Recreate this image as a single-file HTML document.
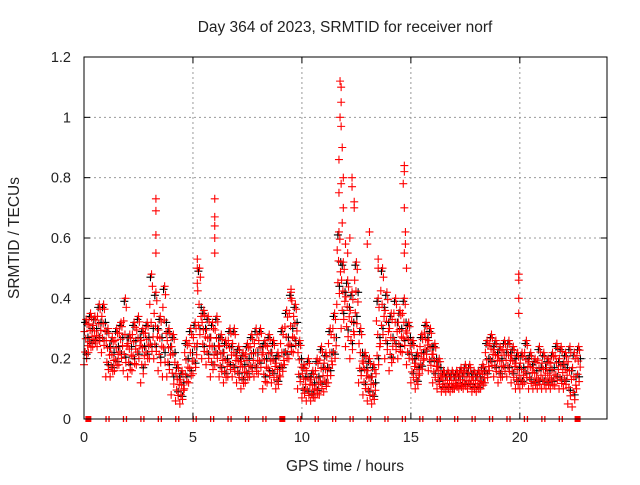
<!DOCTYPE html>
<html><head><meta charset="utf-8"><style>
body{margin:0;background:#fff}
svg text{font-family:"Liberation Sans","DejaVu Sans",sans-serif;fill:#222}
</style></head><body>
<svg id="c" width="640" height="480" xmlns="http://www.w3.org/2000/svg">
<rect width="640" height="480" fill="#fff"/>
<g id="grid"></g><g id="black"></g><g id="red"></g><g id="axes"></g>
<text x="345" y="32" font-size="15.5" text-anchor="middle">Day 364 of 2023, SRMTID for receiver norf</text>
<text x="345" y="471" font-size="15.5" text-anchor="middle">GPS time / hours</text>
<text transform="translate(19,238) rotate(-90)" font-size="15.5" text-anchor="middle">SRMTID / TECUs</text>
</svg>
<script>
const xTicks=[0,5,10,15,20];
const yTicks=[0,0.2,0.4,0.6,0.8,1,1.2];
const yTickLabels=["0","0.2","0.4","0.6","0.8","1","1.2"];
const step=0.2;
const midVals=[0.25,0.28,0.28,0.30,0.30,0.22,0.20,0.22,0.25,0.25,0.22,0.24,0.25,0.22,0.25,0.28,0.28,0.25,0.30,0.22,0.20,0.12,0.10,0.18,0.20,0.22,0.35,0.28,0.25,0.22,0.25,0.20,0.18,0.22,0.20,0.18,0.16,0.18,0.20,0.20,0.22,0.18,0.20,0.18,0.15,0.20,0.25,0.28,0.30,0.18,0.12,0.12,0.10,0.12,0.15,0.15,0.20,0.25,0.50,0.40,0.35,0.30,0.40,0.20,0.15,0.12,0.10,0.25,0.35,0.30,0.25,0.30,0.28,0.30,0.25,0.18,0.15,0.20,0.25,0.22,0.18,0.15,0.12,0.12,0.12,0.12,0.12,0.13,0.13,0.12,0.12,0.14,0.18,0.22,0.20,0.18,0.20,0.20,0.18,0.15,0.15,0.18,0.16,0.14,0.15,0.15,0.14,0.15,0.17,0.16,0.15,0.14,0.12,0.18];
const loVals=[0.18,0.22,0.24,0.24,0.22,0.14,0.14,0.16,0.18,0.16,0.14,0.16,0.18,0.12,0.18,0.20,0.20,0.16,0.14,0.14,0.08,0.06,0.05,0.10,0.12,0.15,0.25,0.20,0.18,0.14,0.18,0.14,0.12,0.14,0.14,0.12,0.10,0.12,0.14,0.14,0.15,0.10,0.12,0.12,0.10,0.14,0.18,0.20,0.22,0.10,0.07,0.06,0.06,0.07,0.08,0.09,0.12,0.18,0.38,0.30,0.24,0.20,0.28,0.12,0.08,0.06,0.05,0.15,0.25,0.20,0.16,0.20,0.20,0.22,0.18,0.12,0.10,0.15,0.20,0.16,0.12,0.10,0.09,0.09,0.09,0.10,0.10,0.10,0.10,0.09,0.09,0.10,0.12,0.16,0.14,0.12,0.14,0.14,0.12,0.10,0.10,0.12,0.10,0.10,0.10,0.10,0.10,0.10,0.11,0.10,0.10,0.05,0.04,0.10];
const hiVals=[0.33,0.35,0.34,0.38,0.38,0.30,0.27,0.30,0.32,0.40,0.28,0.32,0.34,0.30,0.32,0.48,0.42,0.34,0.44,0.30,0.28,0.18,0.16,0.26,0.30,0.32,0.50,0.36,0.34,0.32,0.34,0.28,0.26,0.30,0.30,0.24,0.22,0.25,0.28,0.30,0.30,0.26,0.28,0.26,0.22,0.30,0.36,0.42,0.38,0.26,0.18,0.20,0.16,0.20,0.24,0.22,0.30,0.35,0.62,0.52,0.46,0.42,0.52,0.30,0.22,0.20,0.18,0.40,0.50,0.42,0.35,0.40,0.36,0.40,0.32,0.26,0.22,0.28,0.32,0.30,0.25,0.20,0.16,0.16,0.16,0.16,0.17,0.18,0.18,0.16,0.16,0.18,0.26,0.28,0.26,0.24,0.26,0.26,0.24,0.22,0.22,0.26,0.22,0.20,0.24,0.22,0.20,0.22,0.25,0.24,0.22,0.24,0.22,0.24];
const spikeTimes=[3.3,3.3,3.3,3.3,6.0,6.0,6.0,6.0,6.0,5.2,5.2,11.75,11.8,11.8,11.75,11.8,11.85,11.7,11.8,11.9,11.7,11.9,11.85,12.3,12.3,12.4,12.4,12.2,12.0,12.1,14.7,14.7,14.65,14.7,14.75,14.75,14.7,14.8,13.0,13.1,13.5,13.5,19.95,19.95,19.95,19.95,9.5,9.5,5.2];
const spikeVals=[0.73,0.69,0.61,0.55,0.73,0.67,0.64,0.60,0.55,0.53,0.50,1.12,1.10,1.05,1.0,0.97,0.9,0.86,0.78,0.8,0.75,0.7,0.65,0.8,0.77,0.72,0.7,0.6,0.58,0.55,0.84,0.82,0.78,0.7,0.62,0.58,0.55,0.5,0.58,0.62,0.53,0.5,0.48,0.46,0.4,0.35,0.43,0.4,0.45];
const zeroTimes=[0.2,1.08,1.88,2.68,3.48,4.28,5.08,5.88,6.68,7.48,8.28,9.1,9.88,10.68,11.48,12.28,13.08,13.88,14.68,15.48,16.28,17.08,17.88,18.68,19.48,20.28,21.08,21.88,22.65];
const bigZero=[0.2,9.1,22.65];
const X0=84,X1=607,Y0=419,Y1=57;
const xs=t=>X0+(X1-X0)*t/24;
const ys=v=>Y0-(Y0-Y1)*v/1.2;
const NS="http://www.w3.org/2000/svg";
function mk(tag,attrs,parent){const e=document.createElementNS(NS,tag);for(const k in attrs)e.setAttribute(k,attrs[k]);parent.appendChild(e);return e;}
const grid=document.getElementById('grid'),axes=document.getElementById('axes');
const gb=document.getElementById('black'),gr=document.getElementById('red');
xTicks.forEach(t=>{
  const x=xs(t);
  if(t>0){const l=mk('line',{x1:x,y1:Y1,x2:x,y2:Y0,stroke:'#999','stroke-dasharray':'2,3'},grid);
  
  }
  mk('line',{x1:x,y1:Y0,x2:x,y2:Y0-6,stroke:'#000'},axes);
  mk('line',{x1:x,y1:Y1,x2:x,y2:Y1+6,stroke:'#000'},axes);
  const tx=mk('text',{x:x,y:Y0+23,'font-size':14.5,'text-anchor':'middle'},axes);tx.textContent=t;
  
  
});
yTicks.forEach((v,i)=>{
  const y=ys(v);
  if(v>0&&v<1.2){const l=mk('line',{x1:X0,y1:y,x2:X1,y2:y,stroke:'#999','stroke-dasharray':'2,3'},grid);
  
  }
  mk('line',{x1:X0,y1:y,x2:X0+6,y2:y,stroke:'#000'},axes);
  mk('line',{x1:X1,y1:y,x2:X1-6,y2:y,stroke:'#000'},axes);
  const tx=mk('text',{x:X0-13,y:y+5,'font-size':14.5,'text-anchor':'end'},axes);tx.textContent=yTickLabels[i];
  
  
});
const frame=mk('rect',{x:X0,y:Y1,width:X1-X0,height:Y0-Y1,fill:'none',stroke:'#000'},axes);


function cross(t,v,col,g){
  const x=xs(t),y=ys(v);
  const p=mk('path',{d:`M${x-4},${y}h8M${x},${y-4}v8`,stroke:col,'stroke-width':1.1,fill:'none'},g);
  
  
}
const fr=[0,0.15,0.3,0.45,0.6,0.75,0.9,1];
const dt=[0.0,0.12,0.05,0.17,0.08,0.02,0.14,0.1];
midVals.forEach((m,i)=>{
  const t=i*step;
  cross(t+0.05,hiVals[i]-0.01,'#000',gb);
  cross(t+0.12,(m+loVals[i])/2,'#000',gb);
  cross(t+0.18,m+0.02,'#000',gb);
});
midVals.forEach((m,i)=>{
  const t=i*step;
  fr.forEach((f,k)=>{
    const v=f<0.5?loVals[i]+(m-loVals[i])*f*2:m+(hiVals[i]-m)*(f-0.5)*2;
    cross(t+dt[k],v,'#f00',gr);
  });
});
spikeTimes.forEach((t,i)=>cross(t,spikeVals[i],'#f00',gr));
zeroTimes.forEach(t=>{
  const x=xs(t);
  const p=mk('path',{d:`M${x-1.5},${Y0-3}v6M${x+1.5},${Y0-3}v6`,stroke:'#f00','stroke-width':1.3},gr);
  
  
});
bigZero.forEach(t=>{
  const r=mk('rect',{x:xs(t)-3,y:Y0-3,width:6,height:6,fill:'#f00'},gr);
  
  
});
</script>
</body></html>
